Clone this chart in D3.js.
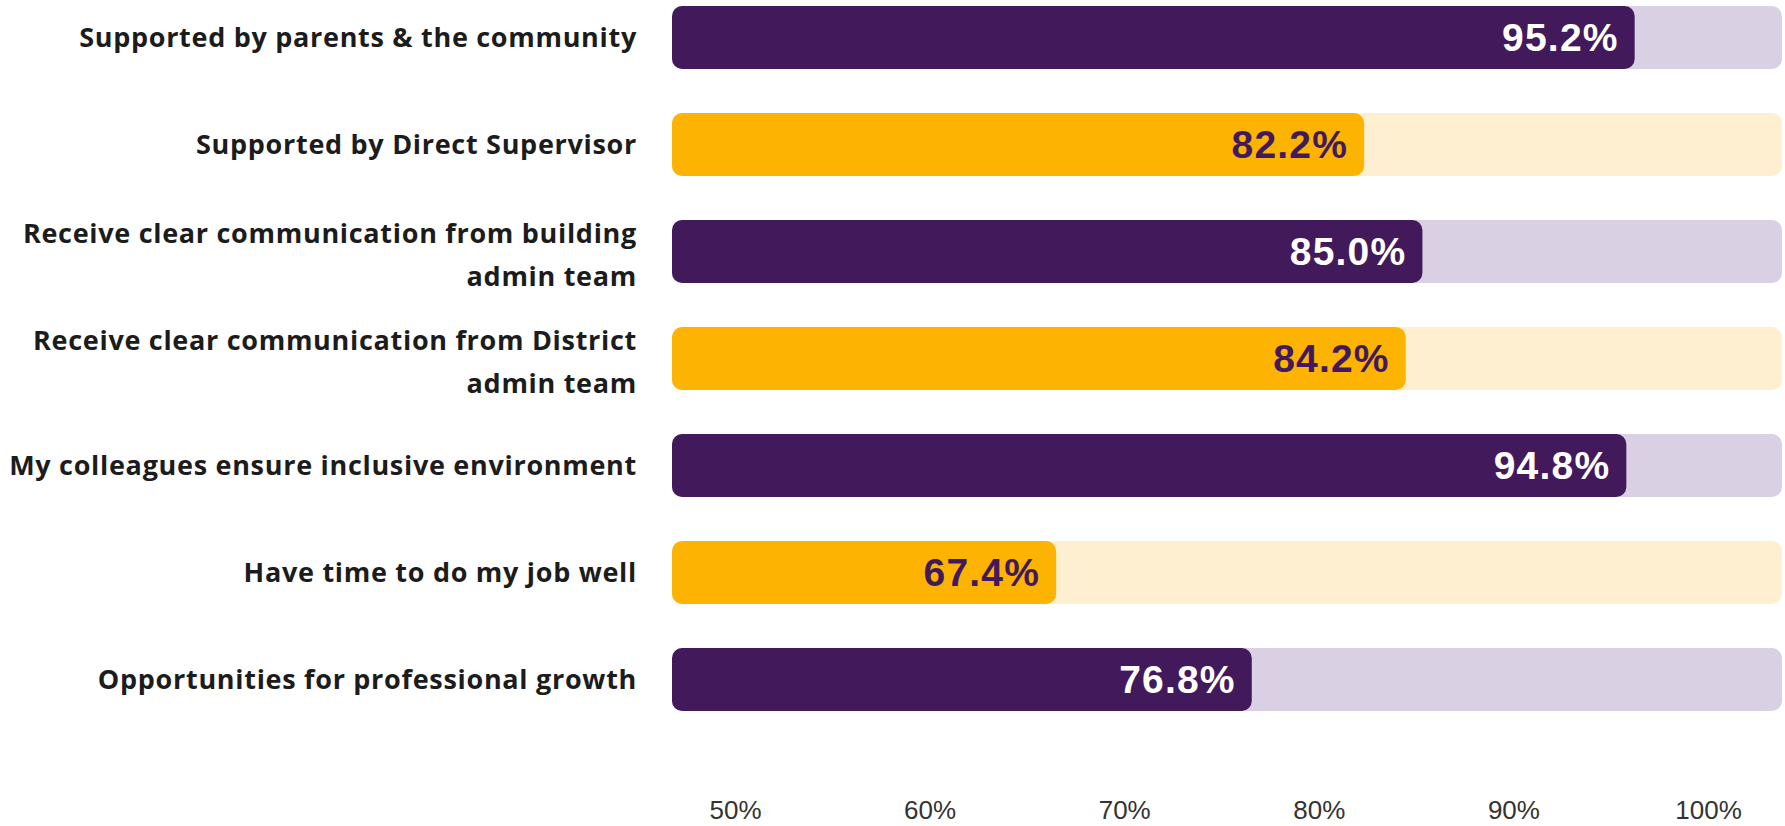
<!DOCTYPE html>
<html>
<head>
<meta charset="utf-8">
<script src="https://cdn.jsdelivr.net/npm/d3@7"></script>
<style>
  html, body { margin: 0; padding: 0; background: #ffffff; }
  svg { display: block; }
</style>
</head>
<body>
<svg id="chart" width="1785" height="826"></svg>
<script>
// Survey items, top to bottom
const categories = [
  "Supported by parents & the community",
  "Supported by Direct Supervisor",
  "Receive clear communication from building admin team",
  "Receive clear communication from District admin team",
  "My colleagues ensure inclusive environment",
  "Have time to do my job well",
  "Opportunities for professional growth"
];

// Share of staff agreeing (%)
const values = [95.2, 82.2, 85.0, 84.2, 94.8, 67.4, 76.8];

// Labels along the bottom
const tickValues = [50, 60, 70, 80, 90, 100];

// Alternating palette: bar fill, track fill, value-label colour
const barColors   = ["#421a5c", "#fdb302"];
const trackColors = ["#d9d1e3", "#fdefd0"];
const labelColors = ["#ffffff", "#421a5c"];

const svg = d3.select("#chart");

// Bar length scale (track spans the full range)
const x = d3.scaleLinear().domain([48.94, 102.28]).range([672, 1782]);
// Scale for the percentage labels beneath the bars
const xTicks = d3.scaleLinear().domain([50, 100]).range([735, 1708]);

const y = d3.scaleBand()
  .domain(categories)
  .range([6, 711])
  .paddingInner(0.411)
  .paddingOuter(0);

const rows = svg.append("g").selectAll("g.row")
  .data(categories.map((c, i) => ({ c, v: values[i], i })))
  .join("g")
  .attr("class", "row");

// Background track
rows.append("rect")
  .attr("x", x.range()[0])
  .attr("y", d => y(d.c))
  .attr("width", x.range()[1] - x.range()[0])
  .attr("height", y.bandwidth())
  .attr("rx", 10)
  .attr("fill", d => trackColors[d.i % 2]);

// Value bar
rows.append("rect")
  .attr("x", x.range()[0])
  .attr("y", d => y(d.c))
  .attr("width", d => x(d.v) - x.range()[0])
  .attr("height", y.bandwidth())
  .attr("rx", 10)
  .attr("fill", d => barColors[d.i % 2]);

// Value label inside the end of the bar
rows.append("text")
  .attr("x", d => x(d.v) - 16)
  .attr("y", d => y(d.c) + y.bandwidth() / 2 + 13.5)
  .attr("text-anchor", "end")
  .attr("font-family", "'Liberation Sans', Arial, sans-serif")
  .attr("font-weight", 700)
  .attr("font-size", 39)
  .attr("letter-spacing", 1.2)
  .attr("fill", d => labelColors[d.i % 2])
  .text(d => d.v.toFixed(1) + "%");

// Category labels, right-aligned and wrapped to the available width
const labelRight = 637;
const maxLabelWidth = 660;
const lineGap = 43;

rows.each(function (d) {
  const g = d3.select(this);
  const t = g.append("text")
    .attr("text-anchor", "end")
    .attr("font-family", "'Open Sans', 'Noto Sans', sans-serif")
    .attr("font-weight", 700)
    .attr("font-size", 27)
    .attr("letter-spacing", 0.7)
    .attr("fill", "#1c1c1c");

  // Greedy word wrap
  const words = d.c.split(" ");
  const lines = [];
  let cur = [];
  const probe = t.append("tspan");
  words.forEach(w => {
    const test = cur.concat([w]).join(" ");
    probe.text(test);
    if (probe.node().getComputedTextLength() > maxLabelWidth && cur.length) {
      lines.push(cur.join(" "));
      cur = [w];
    } else {
      cur.push(w);
    }
  });
  lines.push(cur.join(" "));
  probe.remove();

  const cy = y(d.c) + y.bandwidth() / 2;
  const shift = lines.length > 1 ? 3 : 0;
  const first = cy - (lines.length - 1) * lineGap / 2 + 9.5 + shift;
  lines.forEach((ln, k) => {
    t.append("tspan")
      .attr("x", labelRight)
      .attr("y", first + k * lineGap)
      .text(ln);
  });
});

// Percentage labels along the bottom
const axis = d3.axisBottom(xTicks)
  .tickValues(tickValues)
  .tickFormat(d => d + "%")
  .tickSize(0)
  .tickPadding(0);

const axisG = svg.append("g")
  .attr("transform", "translate(0, 800)")
  .call(axis);

axisG.select(".domain").remove();
axisG.selectAll(".tick text")
  .attr("font-family", "'Liberation Sans', Arial, sans-serif")
  .attr("font-size", 26)
  .attr("fill", "#333333")
  .attr("dy", null)
  .attr("y", 19);
</script>
</body>
</html>
